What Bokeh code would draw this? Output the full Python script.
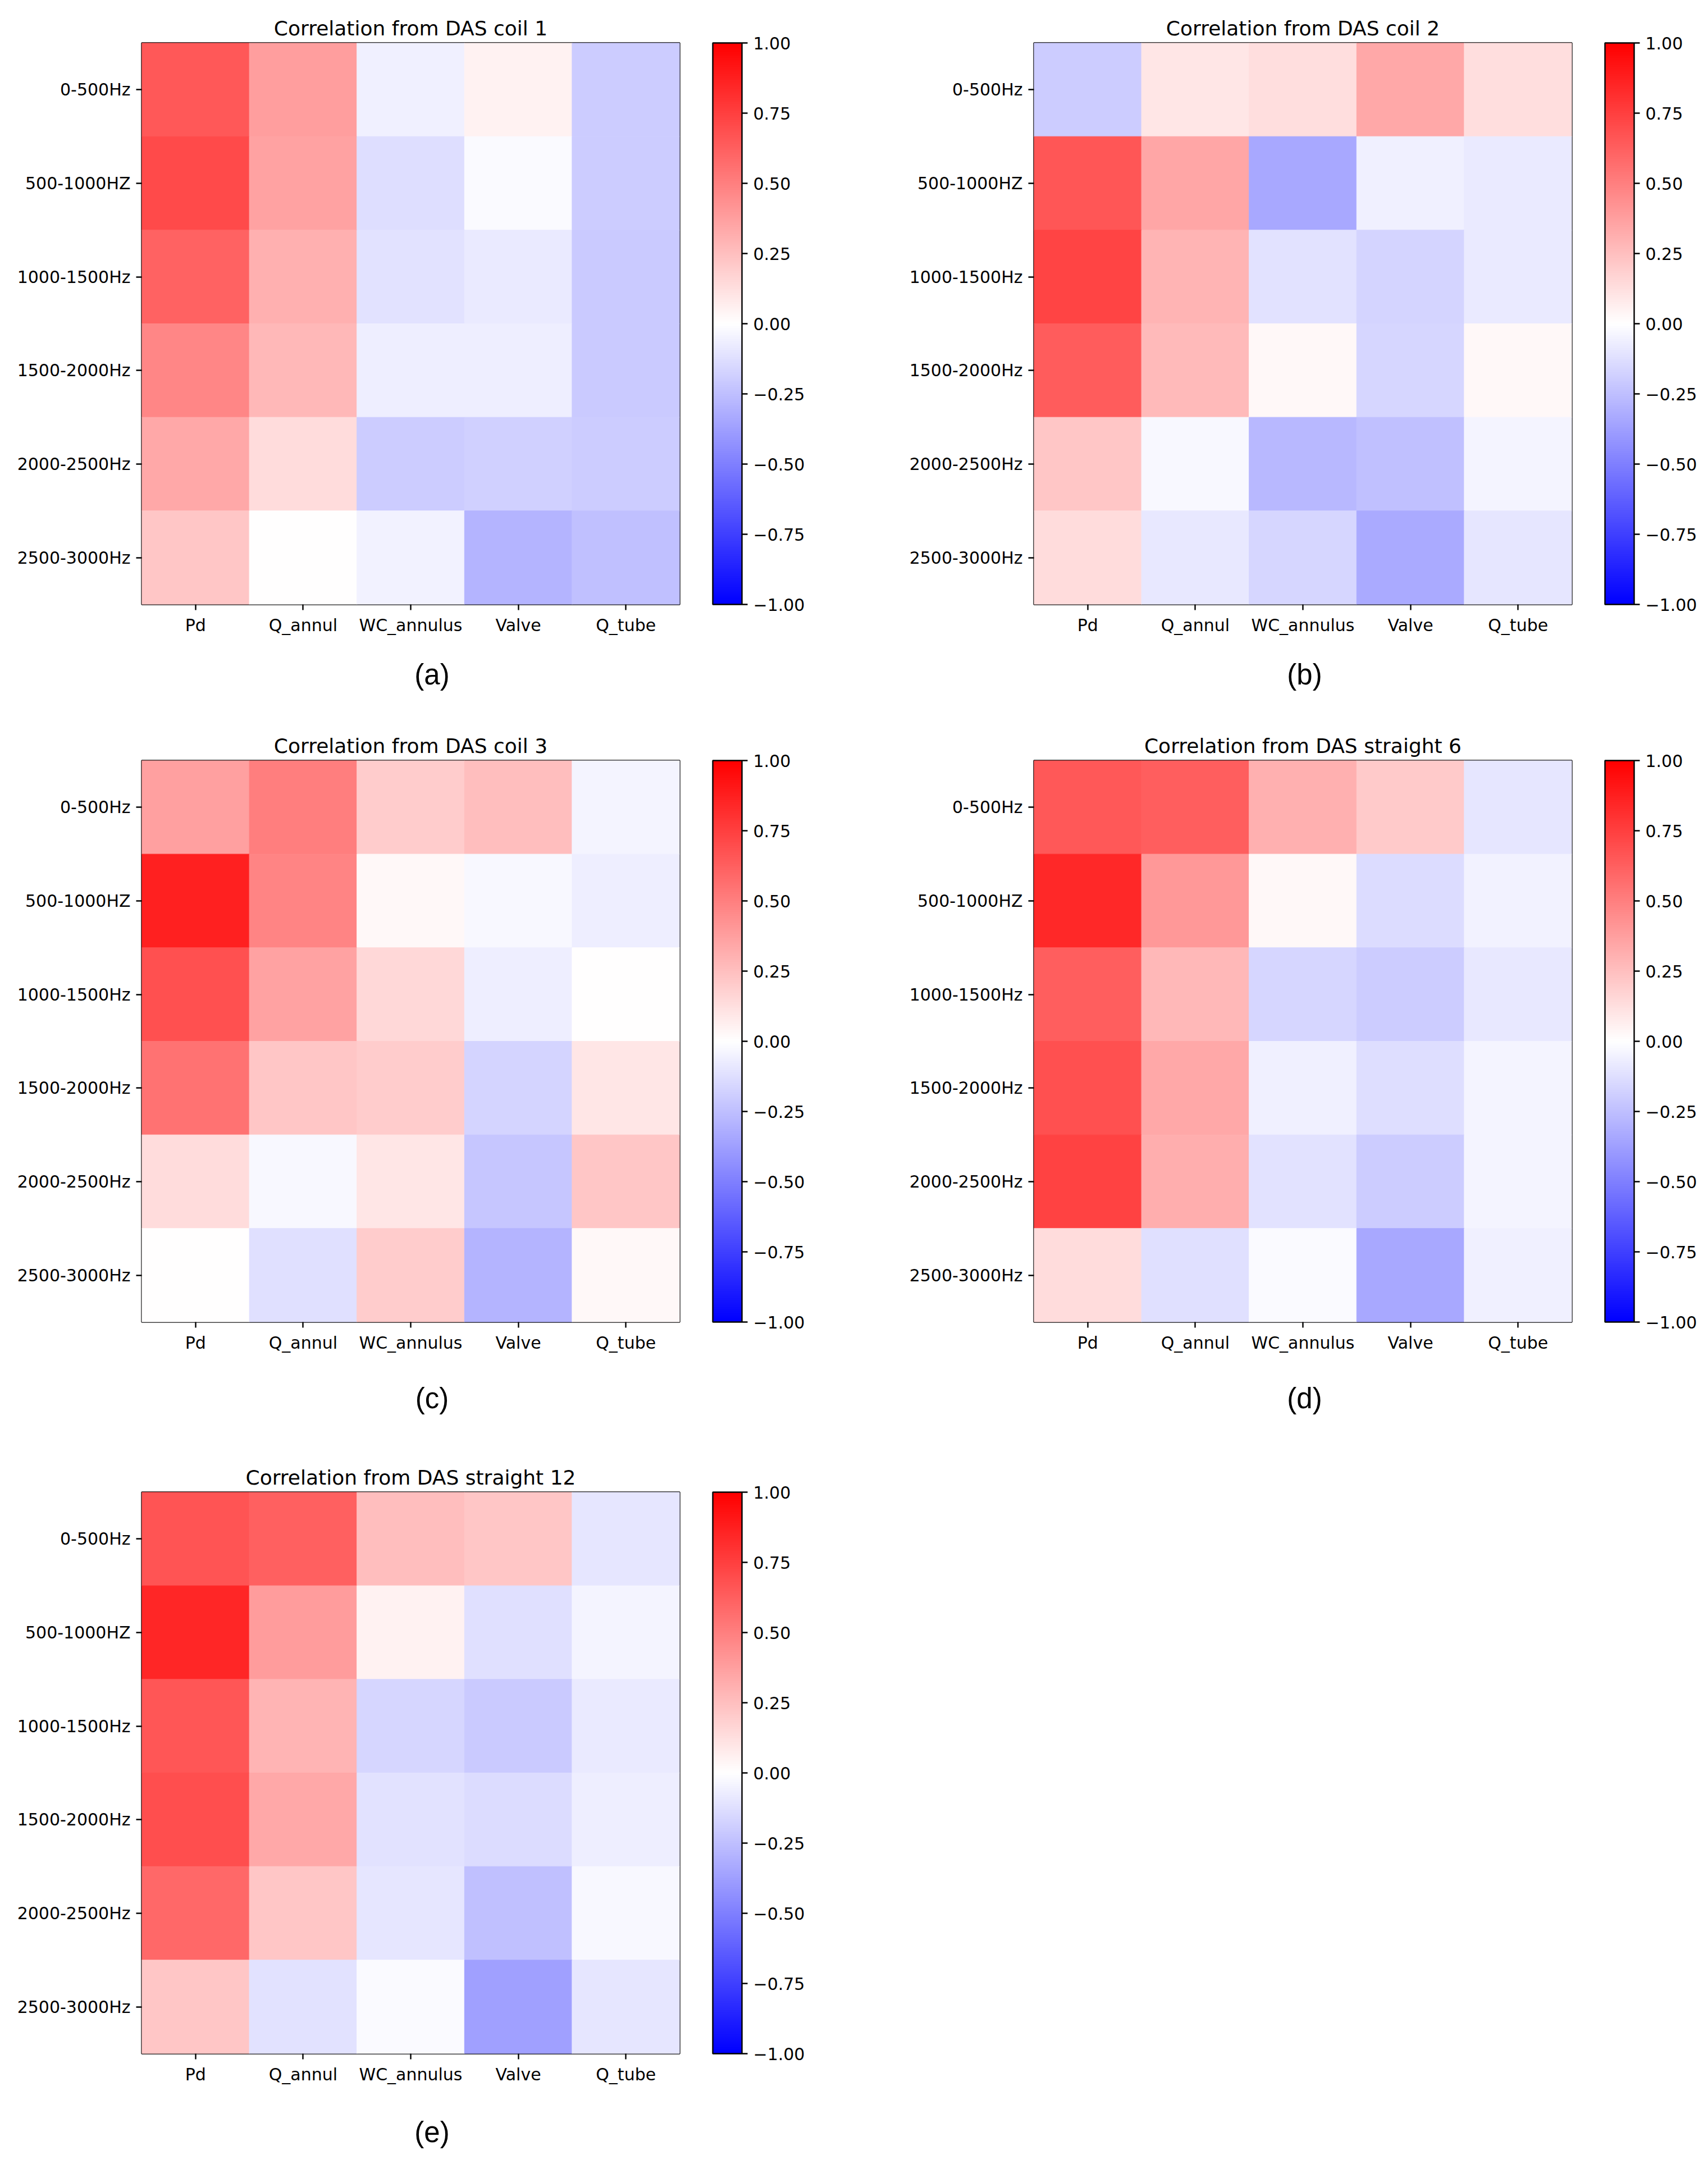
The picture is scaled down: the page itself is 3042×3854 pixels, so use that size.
from bokeh.plotting import figure
from bokeh.models import (ColumnDataSource, LinearColorMapper, ColorBar, FixedTicker,
                          CustomJSTickFormatter, Title)
from bokeh.layouts import row, column
from bokeh.transform import transform
from bokeh.embed import file_html
from bokeh.resources import INLINE

features = ["Pd", "Q_annul", "WC_annulus", "Valve", "Q_tube"]
bands = ["0-500Hz", "500-1000HZ", "1000-1500Hz", "1500-2000Hz", "2000-2500Hz", "2500-3000Hz"]
cbar_ticks = [-1.0, -0.75, -0.5, -0.25, 0.0, 0.25, 0.5, 0.75, 1.0]

titles = ["Correlation from DAS coil 1", "Correlation from DAS coil 2",
          "Correlation from DAS coil 3", "Correlation from DAS straight 6",
          "Correlation from DAS straight 12"]
captions = ["(a)", "(b)", "(c)", "(d)", "(e)"]

# rows = frequency bands (top to bottom), columns = features
coil1 = [
    [0.65, 0.38, -0.06, 0.05, -0.20],
    [0.71, 0.36, -0.13, -0.02, -0.20],
    [0.61, 0.31, -0.11, -0.08, -0.21],
    [0.47, 0.28, -0.07, -0.07, -0.21],
    [0.34, 0.14, -0.20, -0.18, -0.20],
    [0.22, 0.00, -0.05, -0.29, -0.25],
]
coil2 = [
    [-0.20, 0.10, 0.13, 0.34, 0.13],
    [0.66, 0.35, -0.34, -0.06, -0.08],
    [0.73, 0.29, -0.11, -0.17, -0.08],
    [0.64, 0.27, 0.03, -0.16, 0.03],
    [0.22, -0.03, -0.28, -0.25, -0.04],
    [0.14, -0.09, -0.16, -0.33, -0.10],
]
coil3 = [
    [0.37, 0.50, 0.20, 0.25, -0.04],
    [0.87, 0.48, 0.03, -0.03, -0.07],
    [0.68, 0.36, 0.15, -0.07, 0.00],
    [0.55, 0.22, 0.20, -0.17, 0.10],
    [0.14, -0.03, 0.10, -0.22, 0.22],
    [0.00, -0.12, 0.20, -0.29, 0.03],
]
straight6 = [
    [0.65, 0.63, 0.31, 0.21, -0.10],
    [0.84, 0.40, 0.03, -0.14, -0.05],
    [0.63, 0.28, -0.16, -0.20, -0.09],
    [0.68, 0.34, -0.06, -0.13, -0.04],
    [0.74, 0.32, -0.11, -0.20, -0.04],
    [0.14, -0.12, -0.02, -0.34, -0.06],
]
straight12 = [
    [0.67, 0.62, 0.25, 0.22, -0.10],
    [0.85, 0.39, 0.05, -0.12, -0.04],
    [0.66, 0.29, -0.16, -0.21, -0.08],
    [0.69, 0.34, -0.11, -0.14, -0.07],
    [0.59, 0.22, -0.10, -0.25, -0.03],
    [0.22, -0.11, -0.02, -0.37, -0.10],
]
datasets = [coil1, coil2, coil3, straight6, straight12]


def bwr_palette(n=256):
    pal = []
    for i in range(n):
        t = i / (n - 1)
        if t < 0.5:
            r = g = 2 * t
            b = 1.0
        else:
            r = 1.0
            g = b = 2 * (1 - t)
        pal.append("#%02x%02x%02x" % (round(r * 255), round(g * 255), round(b * 255)))
    return pal


PALETTE = bwr_palette()
FONT = "DejaVu Sans"
CAP_FONT_PX = 51

FRAME_W, FRAME_H = 958, 1000

# layout per panel: (figure width, left border, top border, figure height,
#                    gap above caption [px], caption centre from frame left [px])
specs = [
    (1520, 252, 76, 1279, 37, 517),
    (1506, 321, 76, 1279, 37, 482),
    (1520, 252, 75, 1300, 48, 517),
    (1506, 321, 75, 1300, 48, 482),
    (1520, 252, 78, 1255, 52, 517),
]


def make_panel(idx):
    data = datasets[idx]
    fw, lb, tb, h, cap_gap, cap_center = specs[idx]
    xs, ys, vs = [], [], []
    for r, band in enumerate(bands):
        for c, feat in enumerate(features):
            xs.append(feat)
            ys.append(band)
            vs.append(data[r][c])
    src = ColumnDataSource(dict(x=xs, y=ys, v=vs))
    mapper = LinearColorMapper(palette=PALETTE, low=-1, high=1)

    p = figure(x_range=features, y_range=list(reversed(bands)),
               width=fw, height=h,
               min_border_left=lb, min_border_right=fw - lb - FRAME_W,
               min_border_top=tb, min_border_bottom=h - tb - FRAME_H,
               toolbar_location=None, output_backend="svg")
    p.rect(x="x", y="y", width=1, height=1, source=src,
           fill_color=transform("v", mapper), line_color=transform("v", mapper), line_width=1)

    p.title.text = titles[idx]
    p.title.align = "center"
    p.title.text_font = FONT
    p.title.text_font_size = "36px"
    p.title.text_font_style = "normal"
    p.title.text_color = "black"
    p.title.standoff = 11

    p.grid.visible = False
    p.outline_line_color = "black"
    p.outline_line_width = 2.4
    p.background_fill_color = "white"
    p.border_fill_color = "white"

    for ax in (p.xaxis[0], p.yaxis[0]):
        ax.axis_line_color = None
        ax.major_tick_out = 10
        ax.major_tick_in = 0
        ax.major_tick_line_color = "black"
        ax.major_tick_line_width = 2.4
        ax.minor_tick_line_color = None
        ax.major_label_text_font = FONT
        ax.major_label_text_font_size = "30px"
        ax.major_label_text_color = "black"
    p.xaxis[0].major_label_standoff = 9
    p.yaxis[0].major_label_standoff = 10

    cb = ColorBar(color_mapper=mapper,
                  ticker=FixedTicker(ticks=cbar_ticks),
                  formatter=CustomJSTickFormatter(
                      code="return (tick < 0 ? '\u2212' : '') + Math.abs(tick).toFixed(2);"),
                  location=(FRAME_W + 59, 0), width=52, height=FRAME_H,
                  margin=0, padding=0,
                  bar_line_color="black", bar_line_width=2.4,
                  major_tick_out=10, major_tick_in=0,
                  major_tick_line_color="black", major_tick_line_width=2.4,
                  minor_tick_line_color=None,
                  major_label_text_font=FONT, major_label_text_font_size="30px",
                  major_label_text_color="black", label_standoff=10,
                  border_line_color=None, background_fill_alpha=0)
    p.add_layout(cb)

    # blank spacer between the x axis and the sub-figure caption
    p.add_layout(Title(text=" ", text_font_size="1px", standoff=cap_gap - 3), "below")

    # sub-figure caption
    cap = captions[idx]
    adv = (1.166 if cap == "(c)" else 1.222) * CAP_FONT_PX
    p.add_layout(Title(text=cap, align="left", offset=cap_center - adv / 2,
                       text_font="Liberation Sans", text_font_size=f"{CAP_FONT_PX}px",
                       text_font_style="normal", text_color="black",
                       standoff=0), "below")
    return p


panels = [make_panel(i) for i in range(5)]
layout = column(row(panels[0], panels[1]), row(panels[2], panels[3]), row(panels[4]))

open("out.html", "w").write(file_html(layout, INLINE))
